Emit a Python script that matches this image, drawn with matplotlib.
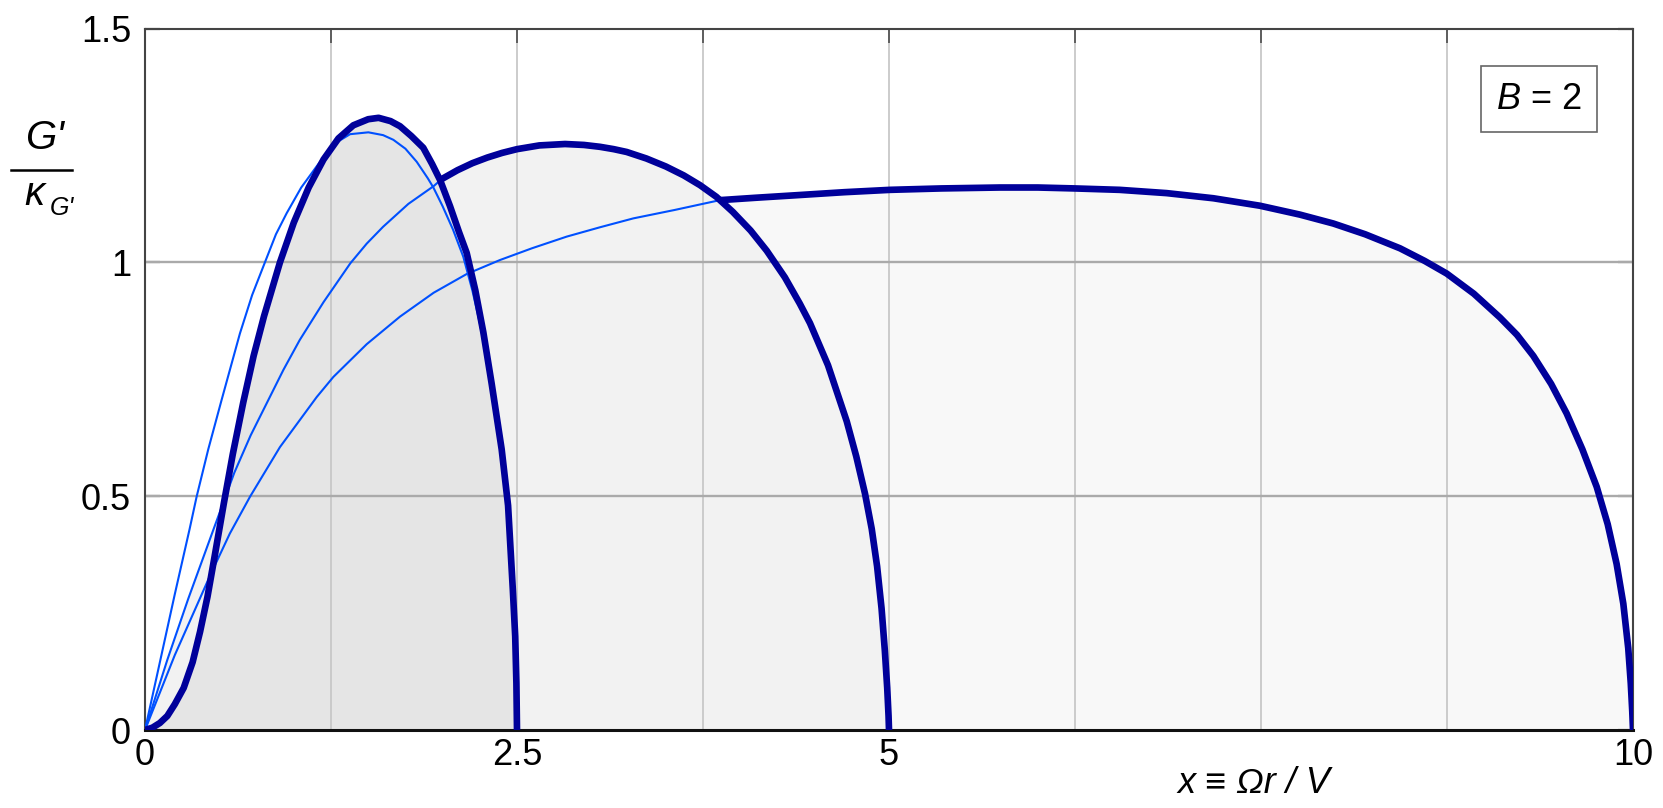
import numpy as np
import matplotlib
matplotlib.use("Agg")
import matplotlib.pyplot as plt
from matplotlib.lines import Line2D

plt.rcParams['font.family'] = ['Liberation Sans', 'DejaVu Sans']
plt.rcParams['mathtext.fontset'] = 'custom'
plt.rcParams['mathtext.rm'] = 'Liberation Sans'
plt.rcParams['mathtext.it'] = 'Liberation Sans:italic'

# Values
# thick curve, x_max = 2.5
thick25_x = [0.0, 0.05, 0.10, 0.15, 0.20, 0.26, 0.32, 0.37, 0.42, 0.47, 0.53, 0.59, 0.66, 0.73,
             0.80, 0.907, 1.00, 1.10, 1.20, 1.30, 1.40, 1.50, 1.57, 1.65, 1.714, 1.79, 1.87,
             1.93, 1.983, 2.05, 2.11, 2.162, 2.22, 2.274, 2.33, 2.397, 2.44, 2.472, 2.488,
             2.496, 2.5]
thick25_y = [0.0, 0.005, 0.015, 0.03, 0.055, 0.09, 0.145, 0.21, 0.285, 0.375, 0.485, 0.59,
             0.70, 0.80, 0.885, 1.0, 1.085, 1.16, 1.22, 1.265, 1.293, 1.306, 1.309, 1.302,
             1.291, 1.27, 1.245, 1.21, 1.176, 1.12, 1.065, 1.02, 0.94, 0.85, 0.74, 0.60, 0.48,
             0.30, 0.20, 0.10, 0.0]
# thin curve, x_max = 2.5
thin25_x = [0.0, 0.1, 0.2, 0.3, 0.347, 0.425, 0.515, 0.638, 0.72, 0.806, 0.88, 0.952, 1.05,
            1.176, 1.28, 1.378, 1.501, 1.60, 1.669, 1.75, 1.826, 1.90, 1.938, 2.0, 2.07, 2.139,
            2.2, 2.25, 2.33, 2.397, 2.44, 2.472, 2.488, 2.496, 2.5]
thin25_y = [0.0, 0.145, 0.29, 0.43, 0.499, 0.60, 0.706, 0.848, 0.93, 1.0, 1.06, 1.105, 1.16,
            1.215, 1.255, 1.274, 1.278, 1.272, 1.262, 1.243, 1.215, 1.18, 1.16, 1.12, 1.07,
            1.012, 0.94, 0.87, 0.74, 0.60, 0.48, 0.30, 0.20, 0.10, 0.0]
# thin curve, x_max = 5
thin5_x = [0.0, 0.15, 0.29, 0.45, 0.60, 0.71, 0.82, 0.93, 1.04, 1.2, 1.38, 1.49, 1.60, 1.77,
           1.94, 1.994]
thin5_y = [0.0, 0.15, 0.28, 0.42, 0.55, 0.63, 0.70, 0.77, 0.834, 0.915, 0.998, 1.04, 1.076,
           1.125, 1.163, 1.178]
# thick curve, x_max = 5
thick5_x = [1.994, 2.1, 2.2, 2.3, 2.4, 2.5, 2.65, 2.823, 2.95, 3.058, 3.15, 3.237, 3.37, 3.50,
            3.62, 3.73, 3.84, 3.95, 4.07, 4.178, 4.30, 4.40, 4.469, 4.59, 4.716, 4.78, 4.839,
            4.884, 4.92, 4.95, 4.972, 4.988, 4.997, 5.0]
thick5_y = [1.178, 1.197, 1.212, 1.224, 1.234, 1.242, 1.250, 1.253, 1.251, 1.247, 1.242, 1.236,
            1.222, 1.205, 1.186, 1.165, 1.14, 1.108, 1.068, 1.025, 0.968, 0.912, 0.870, 0.78,
            0.66, 0.585, 0.505, 0.43, 0.35, 0.26, 0.17, 0.09, 0.03, 0.0]
# thin curve, x_max = 10
thin10_x = [0.0, 0.2, 0.437, 0.57, 0.706, 0.907, 1.154, 1.266, 1.49, 1.714, 1.94, 2.162, 2.386,
            2.6, 2.834, 3.058, 3.282, 3.56, 3.864]
thin10_y = [0.0, 0.16, 0.33, 0.42, 0.499, 0.605, 0.712, 0.755, 0.825, 0.884, 0.935, 0.975,
            1.005, 1.03, 1.055, 1.075, 1.094, 1.112, 1.133]
# thick curve, x_max = 10
thick10_x = [3.864, 4.1, 4.402, 4.7, 5.007, 5.35, 5.746, 6.0, 6.25, 6.55, 6.866, 7.18, 7.493,
             7.762, 7.986, 8.2, 8.434, 8.6, 8.748, 8.93, 9.106, 9.22, 9.33, 9.45, 9.554, 9.66,
             9.756, 9.83, 9.89, 9.935, 9.968, 9.985, 9.995, 10.0]
thick10_y = [1.133, 1.138, 1.144, 1.150, 1.155, 1.158, 1.160, 1.160, 1.158, 1.155, 1.148, 1.137,
             1.121, 1.102, 1.083, 1.06, 1.030, 1.003, 0.976, 0.933, 0.882, 0.845, 0.800, 0.74,
             0.677, 0.60, 0.52, 0.44, 0.355, 0.27, 0.175, 0.10, 0.04, 0.0]

xtick_vals = [0, 1.25, 2.5, 3.75, 5, 6.25, 7.5, 8.75, 10]
xtick_labels = ['0', '', '2.5', '', '5', '', '', '', '10']
ytick_vals = [0, 0.5, 1, 1.5]
ytick_labels = ['0', '0.5', '1', '1.5']

dark = '#00009a'
light = '#0050ff'

fig = plt.figure(figsize=(16.63, 8.08), dpi=100)
ax = fig.add_axes([145 / 1663, 1 - 730 / 808, (1633 - 145) / 1663, (730 - 28.5) / 808])

# shaded areas under each curve
x10 = np.concatenate([thin10_x[:-1], thick10_x])
y10 = np.concatenate([thin10_y[:-1], thick10_y])
x5 = np.concatenate([thin5_x[:-1], thick5_x])
y5 = np.concatenate([thin5_y[:-1], thick5_y])
ax.fill_between(x10, 0, y10, color='#f8f8f8', lw=0, zorder=0.2)
ax.fill_between(x5, 0, y5, color='#f2f2f2', lw=0, zorder=0.25)
ax.fill_between(thick25_x, 0, thick25_y, color='#e5e5e5', lw=0, zorder=0.3)

# grid
for xv in xtick_vals[1:-1]:
    ax.axvline(xv, color='#c8c8c8', lw=1.3, zorder=0.5)
for yv in [0.5, 1.0]:
    ax.axhline(yv, color='#aaaaaa', lw=1.7, zorder=0.5)

# curves
for xs, ys in [(thin25_x, thin25_y), (thin5_x, thin5_y), (thin10_x, thin10_y)]:
    ax.plot(xs, ys, color=light, lw=1.5, zorder=3, solid_joinstyle='round')
for xs, ys in [(thick25_x, thick25_y), (thick5_x, thick5_y), (thick10_x, thick10_y)]:
    ax.plot(xs, ys, color=dark, lw=4.8, zorder=4, solid_joinstyle='round', solid_capstyle='butt')

ax.set_xlim(0, 10)
ax.set_ylim(0, 1.5)

ax.set_xticks(xtick_vals)
ax.set_xticklabels(xtick_labels, fontsize=26)
ax.tick_params(axis='x', bottom=False, top=True, direction='in', length=10, width=1.3,
               color='#555555', pad=6)
ax.set_yticks(ytick_vals)
ax.set_yticklabels(ytick_labels, fontsize=26)
ax.tick_params(axis='y', left=True, right=True, direction='in', length=11, width=1.7,
               color='#aaaaaa', pad=10)

for side in ['left', 'top', 'right']:
    ax.spines[side].set_color('#444444')
    ax.spines[side].set_linewidth(1.5)
ax.spines['bottom'].set_color('#111111')
ax.spines['bottom'].set_linewidth(2.2)

# x axis label
ax.text(7.45, -0.115, 'x \u2261 \u03a9r / V', fontsize=26, style='italic',
        ha='center', va='center', family=['Liberation Sans', 'DejaVu Sans'])

# y axis label as a fraction
fig.text(44 / 1663, 1 - 138 / 808, "G'", fontsize=29, style='italic', ha='center', va='center')
fig.add_artist(Line2D([11 / 1663, 72 / 1663], [1 - 170 / 808, 1 - 170 / 808], color='black',
                      lw=1.8, transform=fig.transFigure))
fig.text(34 / 1663, 1 - 194 / 808, '\u03ba', fontsize=29, style='italic', ha='center',
         va='center')
fig.text(62 / 1663, 1 - 208 / 808, "G'", fontsize=18, style='italic', ha='center', va='center')

# B = 2 box
ax.text(9.37, 1.349, '$\\it{B}$ = 2', fontsize=26, ha='center', va='center',
        bbox=dict(boxstyle='square,pad=0.42', fc='white', ec='#666666', lw=1.2), zorder=6)

fig.savefig('out.png', dpi=100)
